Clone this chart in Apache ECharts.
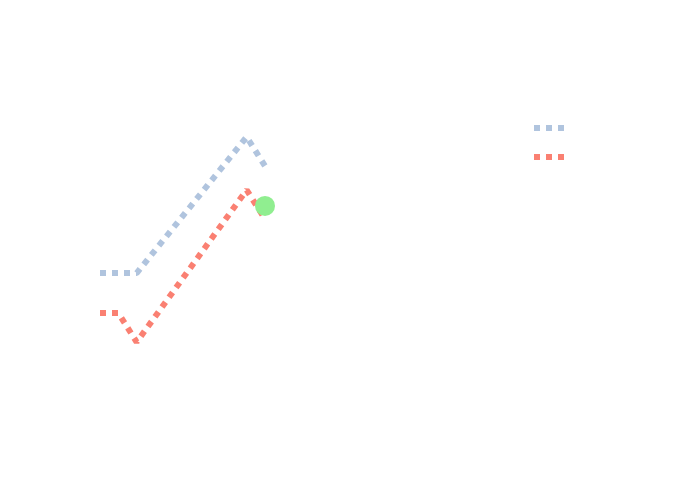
<!DOCTYPE html>
<html>
<head>
<meta charset="utf-8">
<script src="https://cdn.jsdelivr.net/npm/echarts@6/dist/echarts.min.js"></script>
<style>html,body{margin:0;padding:0;background:#fff}#c{width:700px;height:500px}</style>
</head>
<body>
<div id="c"></div>
<script>
var xValues = [0, 1, 2, 8, 9];
var blueValues = [4.23, 4.23, 4.23, 8.77, 7.8];
var redValues = [2.9, 2.9, 1.93, 7.0, 6.03];
var greenPoint = [[9, 6.47]];
var seriesNames = ['trace 0', 'trace 1'];

function pairs(xs, ys) { return xs.map(function (x, i) { return [x, ys[i]]; }); }

var chart = echarts.init(document.getElementById('c'), null, { renderer: 'canvas' });
chart.setOption({
  animation: false,
  backgroundColor: '#fff',
  grid: { left: 100, top: 100, width: 165, height: 300 },
  xAxis: { type: 'value', min: 0, max: 9, show: false },
  yAxis: { type: 'value', min: 0, max: 10, show: false },
  legend: {
    data: seriesNames,
    orient: 'vertical',
    left: 534,
    top: 125,
    padding: 0,
    icon: 'path://M0,0h6v6h-6z M12,0h6v6h-6z M24,0h6v6h-6z',
    itemWidth: 30,
    itemHeight: 6,
    itemGap: 23,
    formatter: function () { return ''; },
    textStyle: { fontSize: 1, lineHeight: 1 }
  },
  series: [
    {
      name: seriesNames[0], type: 'line', data: pairs(xValues, blueValues),
      symbol: 'none', color: '#b0c4de',
      lineStyle: { color: '#b0c4de', width: 6, type: [6, 6], cap: 'butt' }
    },
    {
      name: seriesNames[1], type: 'line', data: pairs(xValues, redValues),
      symbol: 'none', color: '#fa8072',
      lineStyle: { color: '#fa8072', width: 6, type: [6, 6], cap: 'butt' }
    },
    {
      name: 'point', type: 'scatter', data: greenPoint,
      symbol: 'circle', symbolSize: 20,
      itemStyle: { color: '#90ee90', opacity: 1 }, z: 5
    }
  ]
});
</script>
</body>
</html>
